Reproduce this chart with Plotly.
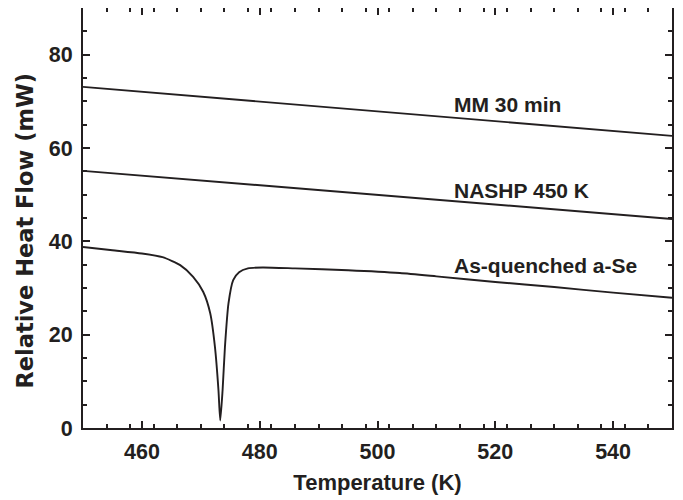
import plotly.graph_objects as go

# Data
temp_straight = [450, 550]
mm30 = [73.1, 62.6]
nashp = [55.1, 44.8]

temp_aq = [450, 455, 460, 463.5, 466.5, 468.7, 470.4, 471.6, 472.4, 473.0, 473.3,
           473.7, 474.1, 474.7, 475.5, 476.5, 478, 480.5, 486, 495, 503.8, 510,
           520, 530, 540, 550]
aq = [38.8, 38.1, 37.4, 36.6, 34.9, 32.4, 29.2, 24.6, 17.4, 8.1, 1.6,
      8.1, 17.4, 26.7, 31.7, 33.4, 34.2, 34.4, 34.2, 33.8, 33.2, 32.5,
      31.3, 30.2, 29.0, 27.9]

labels = ["MM 30 min", "NASHP 450 K", "As-quenched a-Se"]
label_x = [512.7, 512.7, 512.7]
label_y = [69.4, 50.8, 34.8]

x_ticks = [460, 480, 500, 520, 540]
y_ticks = [0, 20, 40, 60, 80]

FONT = "Liberation Sans, Arial, sans-serif"
INK = "#231f20"

fig = go.Figure()
line_style = dict(color=INK, width=1.9)
fig.add_trace(go.Scatter(x=temp_straight, y=mm30, mode="lines", line=line_style, name=labels[0]))
fig.add_trace(go.Scatter(x=temp_straight, y=nashp, mode="lines", line=line_style, name=labels[1]))
fig.add_trace(go.Scatter(x=temp_aq, y=aq, mode="lines",
                         line=dict(color=INK, width=1.9, shape="spline", smoothing=0.6),
                         name=labels[2]))

for t, x, y in zip(labels, label_x, label_y):
    fig.add_annotation(x=x, y=y, text=t, showarrow=False, xanchor="left", yanchor="middle",
                       font=dict(family=FONT, size=21, color=INK, weight="bold"))

# y-axis title as a rotated annotation (positioned like the reference)
fig.add_annotation(xref="paper", yref="paper", x=-0.0985, y=0.47,
                   text="Relative Heat Flow (mW)", textangle=-90, showarrow=False,
                   xanchor="center", yanchor="middle",
                   font=dict(family="DejaVu Sans, sans-serif", size=22.5, color=INK, weight="bold"))

axis_common = dict(
    showline=True, linewidth=2, linecolor=INK, mirror="ticks",
    ticks="inside", ticklen=7, tickwidth=2, tickcolor=INK,
    showgrid=False, zeroline=False,
    tickfont=dict(family=FONT, size=21.5, color=INK, weight="bold"),
)

fig.update_xaxes(range=[450, 550], tickvals=x_ticks, ticklabelstandoff=3,
                 minor=dict(dtick=4, tick0=450, ticks="inside", ticklen=4, tickwidth=1.5, tickcolor=INK),
                 title=dict(text="Temperature (K)", standoff=12,
                            font=dict(family=FONT, size=22, color=INK, weight="bold")),
                 **axis_common)
fig.update_yaxes(range=[0, 90], tickvals=y_ticks, ticklabelstandoff=4,
                 minor=dict(dtick=5, tick0=0, ticks="inside", ticklen=4, tickwidth=1.5, tickcolor=INK),
                 **axis_common)

fig.update_layout(
    width=675, height=492,
    margin=dict(l=75, r=11, t=0, b=72, autoexpand=False),
    plot_bgcolor="white", paper_bgcolor="white",
    showlegend=False,
)

fig.write_html("out.html")
